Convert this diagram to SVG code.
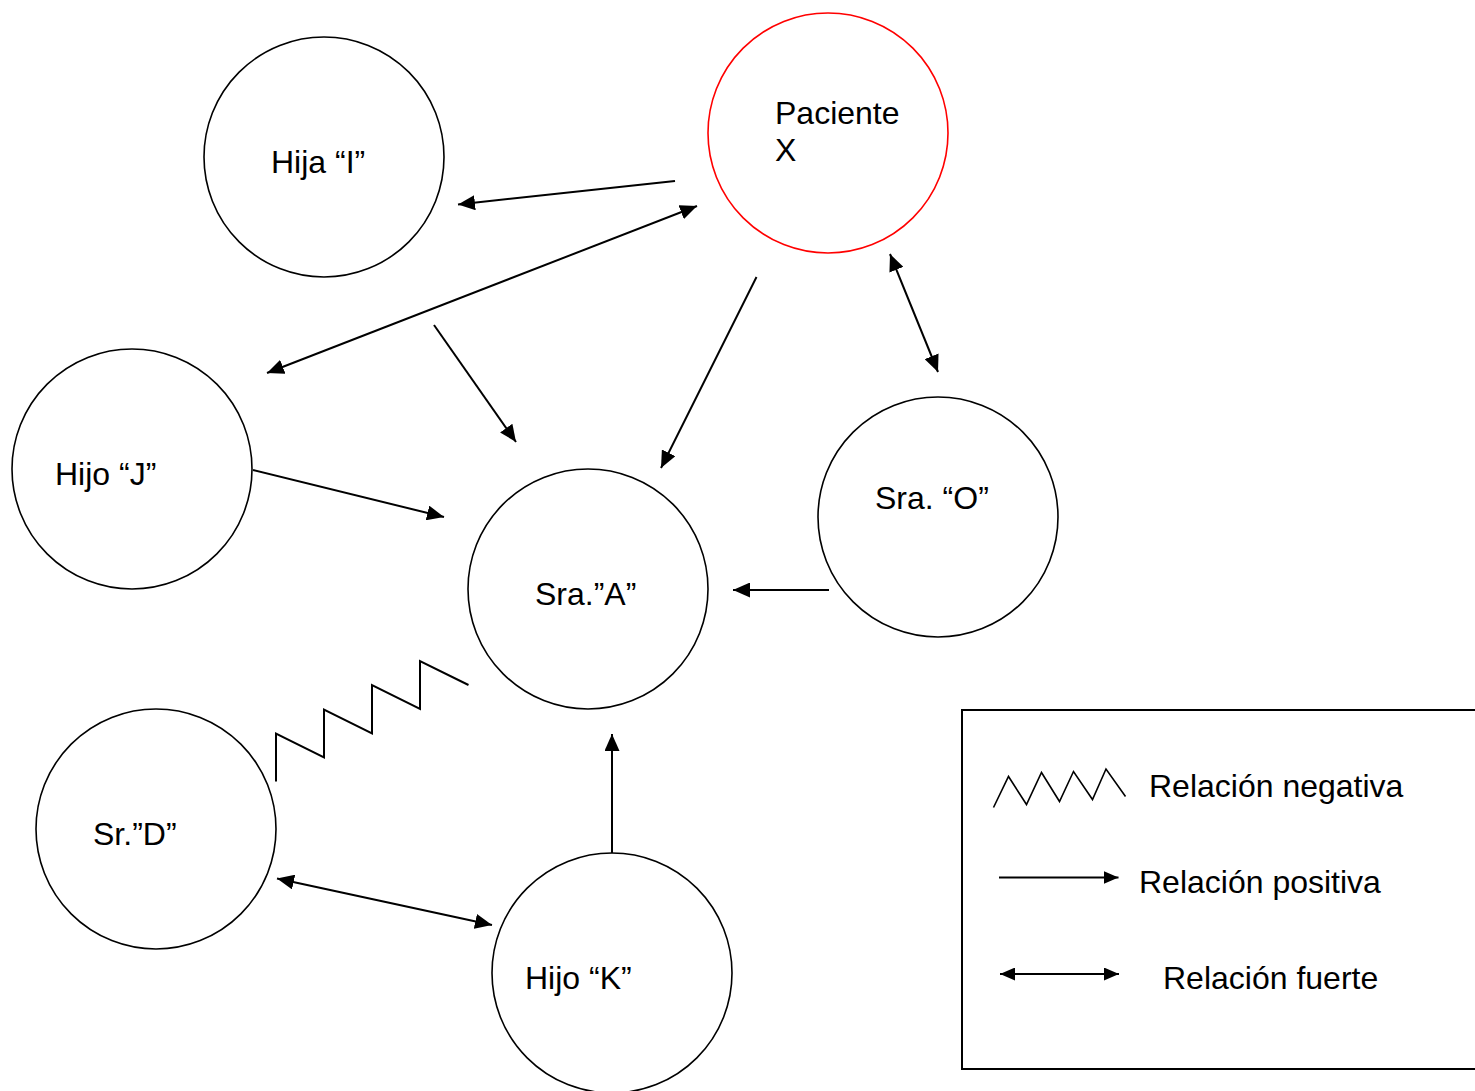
<svg xmlns="http://www.w3.org/2000/svg" width="1475" height="1091" viewBox="0 0 1475 1091">
<style>
.node{fill:#fff;stroke:#000;stroke-width:1.6}
.red{stroke:#ff0000}
.lbl{font-family:"Liberation Sans",Arial,sans-serif;font-size:32px;fill:#000}
.c{fill:none;stroke:#000;stroke-width:2}
.lc{fill:none;stroke:#000;stroke-width:2}
.zz{fill:none;stroke:#000;stroke-width:2;stroke-linejoin:miter}
</style>
<defs>
<marker id="ah" viewBox="0 0 17 15" refX="17" refY="7.5" markerWidth="17" markerHeight="15" markerUnits="userSpaceOnUse" orient="auto-start-reverse">
<path d="M0,0 L17,7.5 L0,15 z" fill="#000"/>
</marker>
<marker id="lah" viewBox="0 0 15 13" refX="15" refY="6.5" markerWidth="15" markerHeight="13" markerUnits="userSpaceOnUse" orient="auto-start-reverse">
<path d="M0,0 L15,6.5 L0,13 z" fill="#000"/>
</marker>
</defs>
<rect width="1475" height="1091" fill="#fff"/>
<g id="nodes">
<g id="hija-i"><circle class="node" cx="324" cy="157" r="120"/><text class="lbl" x="271" y="173">Hija “I”</text></g>
<g id="paciente-x"><circle class="node red" cx="828" cy="133" r="120"/><text class="lbl" x="775" y="124">Paciente</text><text class="lbl" x="775" y="161">X</text></g>
<g id="hijo-j"><circle class="node" cx="132" cy="469" r="120"/><text class="lbl" x="55" y="485">Hijo “J”</text></g>
<g id="sra-a"><circle class="node" cx="588" cy="589" r="120"/><text class="lbl" x="535" y="605">Sra.”A”</text></g>
<g id="sra-o"><circle class="node" cx="938" cy="517" r="120"/><text class="lbl" x="875" y="509">Sra. “O”</text></g>
<g id="sr-d"><circle class="node" cx="156" cy="829" r="120"/><text class="lbl" x="93" y="845">Sr.”D”</text></g>
<g id="hijo-k"><circle class="node" cx="612" cy="973" r="120"/><text class="lbl" x="525" y="989">Hijo “K”</text></g>
</g>
<g id="connectors">
<line class="c" x1="675" y1="181" x2="458" y2="204.5" marker-end="url(#ah)"/>
<line class="c" x1="267" y1="373" x2="697" y2="206" marker-start="url(#ah)" marker-end="url(#ah)"/>
<line class="c" x1="434" y1="325" x2="516" y2="442" marker-end="url(#ah)"/>
<line class="c" x1="756.5" y1="277" x2="661" y2="468" marker-end="url(#ah)"/>
<line class="c" x1="890" y1="254" x2="938" y2="372" marker-start="url(#ah)" marker-end="url(#ah)"/>
<line class="c" x1="253" y1="470" x2="444" y2="517" marker-end="url(#ah)"/>
<line class="c" x1="829" y1="590" x2="733" y2="590" marker-end="url(#ah)"/>
<line class="c" x1="612" y1="853" x2="612" y2="734" marker-end="url(#ah)"/>
<line class="c" x1="277" y1="878.5" x2="492" y2="925" marker-start="url(#ah)" marker-end="url(#ah)"/>
<polyline class="zz" points="276,781.5 276,733.5 324,757.5 324,709.5 372,733.5 372,685 420,709 420,661 468.5,685"/>
</g>
<g id="legend">
<rect x="962" y="710" width="520" height="359" fill="none" stroke="#000" stroke-width="2"/>
<polyline class="zz" style="stroke-width:1.6" points="993.5,807.5 1008.5,776.5 1026.5,804.5 1041.5,772.5 1059.5,801.5 1073.5,771.5 1092.5,799.5 1106,769 1125.5,796.5"/>
<text class="lbl" x="1149" y="797">Relación negativa</text>
<line class="lc" x1="999" y1="877.5" x2="1118.5" y2="877.5" marker-end="url(#lah)"/>
<text class="lbl" x="1139" y="893">Relación positiva</text>
<line class="lc" x1="1000" y1="974" x2="1119" y2="974" marker-start="url(#lah)" marker-end="url(#lah)"/>
<text class="lbl" x="1163" y="989">Relación fuerte</text>
</g>
</svg>
